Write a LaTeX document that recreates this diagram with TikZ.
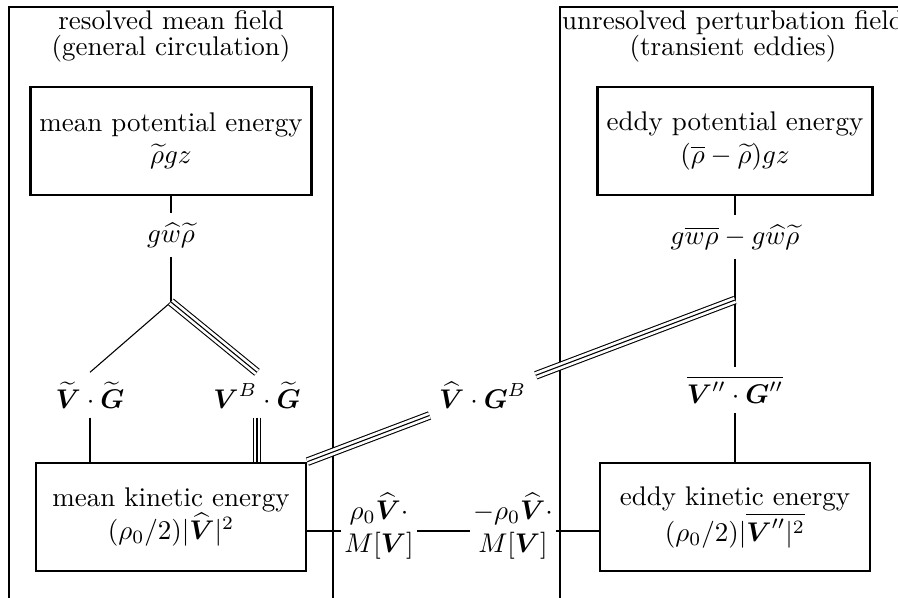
\documentclass[tikz,border=0pt]{standalone}
\usepackage{amsmath,amssymb}
\usetikzlibrary{calc}

\begin{document}
\begin{tikzpicture}[x=0.3704pt, y=-0.3704pt,
  energybox/.style={draw, line width=1pt, minimum width=100pt, minimum height=40pt, align=center},
  fieldtitle/.style={align=center},
  flux/.style={inner sep=3.33pt},
  mflux/.style={inner sep=1pt, align=center},
  link/.style={line width=0.9pt},
  thinlink/.style={line width=0.4pt},
  triple/.style={line width=0.4pt, double, double distance=2.4pt, postaction={draw, line width=0.4pt}}]

\clip (0,0) rectangle (898,597);

% Field frames
\draw[line width=1pt] (9,7) rectangle (333,640);
\draw[line width=1pt] (560,7) rectangle (906,640);
\node[fieldtitle] (meantitle) at (171,36.5) {resolved mean field\\[-2.6pt](general circulation)};
\node[fieldtitle] (eddytitle) at (733,36.5) {unresolved perturbation field\\[-2.6pt](transient eddies)};

% Energy reservoirs
\node[energybox] (mpe) at (171,141) {mean potential energy\\$\widetilde{\rho}gz$};
\node[energybox] (epe) at (735,141) {eddy potential energy\\$(\overline{\rho}-\widetilde{\rho})gz$};
\node[energybox] (mke) at (171,517) {mean kinetic energy\\$(\rho_0/2)|\widehat{\boldsymbol{V}}|^2$};
\node[energybox] (eke) at (735,517) {eddy kinetic energy\\$(\rho_0/2)|\overline{\boldsymbol{V}''|^2}$};

% Conversion terms
\node[flux] (gwr) at (171,235) {$g\widehat{w}\widetilde{\rho}$};
\node[flux] (vtg) at (90,395) {$\widetilde{\boldsymbol{V}}\cdot\widetilde{\boldsymbol{G}}$};
\node[flux] (vbg) at (257,395) {$\boldsymbol{V}^B\cdot\widetilde{\boldsymbol{G}}$};
\node[flux] (gwre) at (735,237) {$g\overline{w\rho}-g\widehat{w}\widetilde{\rho}$};
\node[flux] (vgpp) at (735,390) {$\overline{\boldsymbol{V}''\cdot\boldsymbol{G}''}$};
\node[mflux] (mf1) at (379,526) {$\rho_0\widehat{\boldsymbol{V}}\cdot$\\$M[\boldsymbol{V}]$};
\node[mflux] (mf2) at (513,526) {$-\rho_0\widehat{\boldsymbol{V}}\cdot$\\$M[\boldsymbol{V}]$};

% Junctions
\coordinate (j1) at (171,302);
\coordinate (j2) at (735,300);
\node[flux] (vgb) at ($(mke.north east)!0.41!(j2)$) {$\widehat{\boldsymbol{V}}\cdot\boldsymbol{G}^B$};
\coordinate (mfl) at (mke.east |- 0,531);

% Mean side
\draw[link] (mpe) -- (gwr);
\draw[link] (gwr) -- (j1);
\draw[thinlink] (j1) -- (vtg.north);
\draw[triple] (j1) -- (vbg.north);
\draw[link] (vtg.south) -- (vtg.south |- mke.north);
\draw[triple] (vbg.south) -- (vbg.south |- mke.north);

% Eddy side
\draw[link] (epe) -- (gwre);
\draw[link] (gwre) -- (vgpp);
\draw[link] (vgpp) -- (eke);

% Cross-field exchanges
\draw[triple] (mke.north east) -- (vgb);
\draw[triple] (vgb) -- (j2);
\draw[link] (mfl) -- (mfl -| mf1.west);
\draw[link] (mfl -| mf1.east) -- (mfl -| mf2.west);
\draw[link] (mfl -| mf2.east) -- (mfl -| eke.west);

\end{tikzpicture}
\end{document}
